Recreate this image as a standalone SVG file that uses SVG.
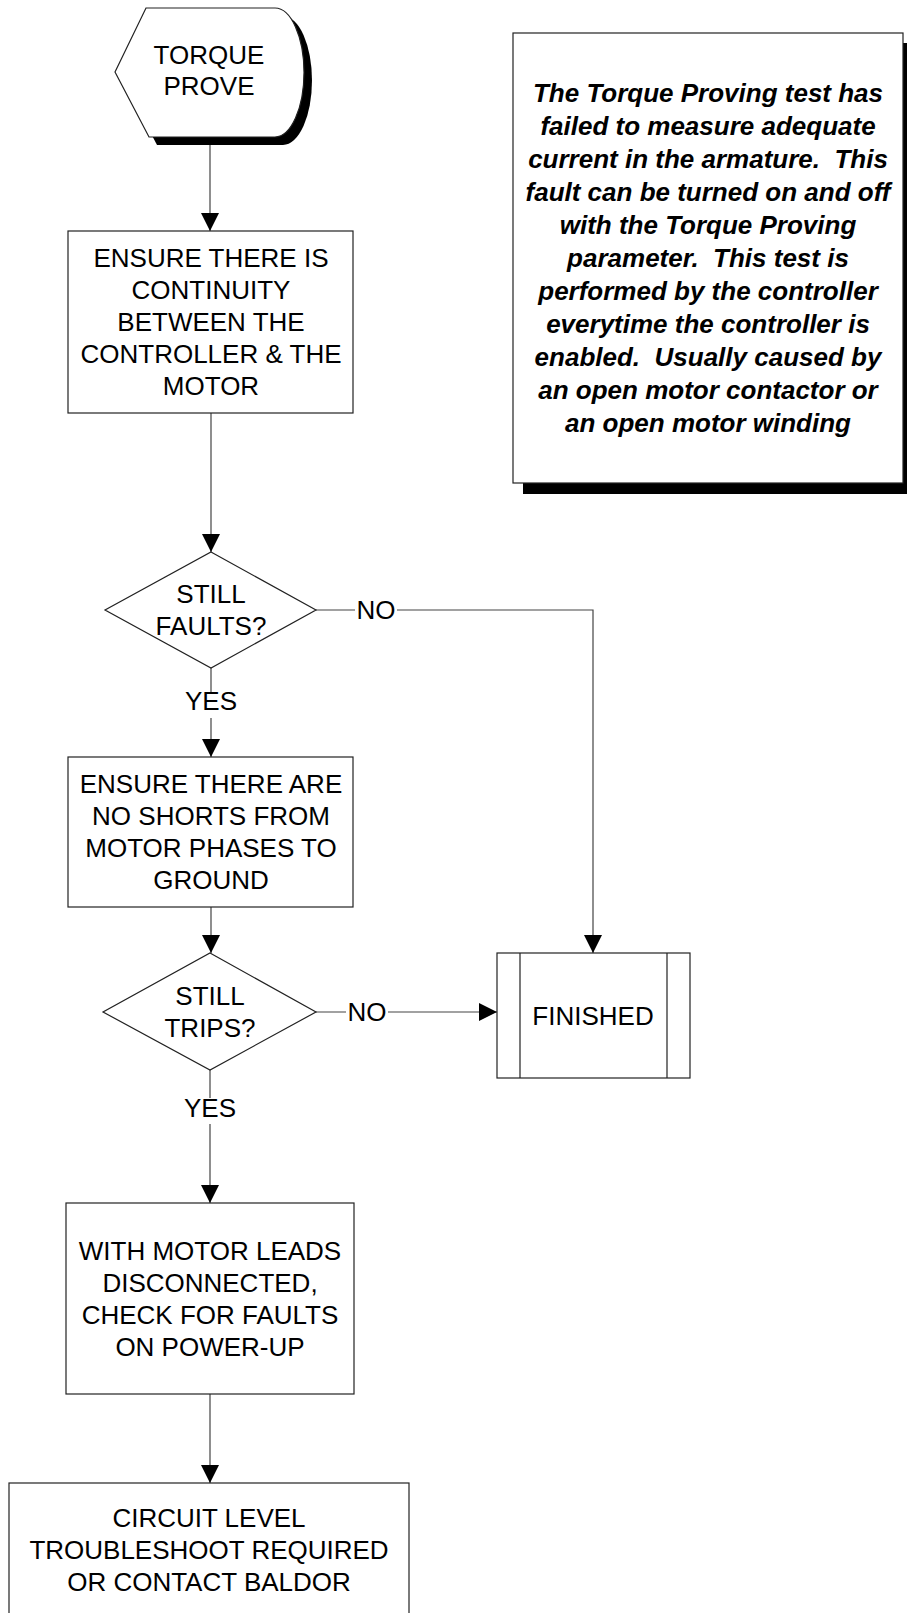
<svg xmlns="http://www.w3.org/2000/svg" width="907" height="1613" viewBox="0 0 907 1613">
<defs>
<marker id="arr" markerUnits="userSpaceOnUse" markerWidth="18" markerHeight="18" refX="18" refY="9" orient="auto"><path d="M0,0 L18,9 L0,18 Z" fill="#000"/></marker>
</defs>
<style>
.box{fill:#fff;stroke:#222;stroke-width:1.2}
.sh{fill:#000}
.t{font-family:"Liberation Sans",Arial,sans-serif;font-size:26px;fill:#000;text-anchor:middle}
.n{font-family:"Liberation Sans",Arial,sans-serif;font-size:26px;font-weight:bold;font-style:italic;fill:#000;text-anchor:middle;white-space:pre}
.c{fill:none;stroke:#444;stroke-width:1.2}
.lbl{fill:#fff}
</style>
<rect width="907" height="1613" fill="#fff"/>
<g id="connectors">
<path class="c" d="M210,138 V231" marker-end="url(#arr)"/>
<path class="c" d="M211,413 V552" marker-end="url(#arr)"/>
<path class="c" d="M211,668 V757" marker-end="url(#arr)"/>
<path class="c" d="M316,610 H593 V953" marker-end="url(#arr)"/>
<path class="c" d="M211,907 V953" marker-end="url(#arr)"/>
<path class="c" d="M316,1012 H497" marker-end="url(#arr)"/>
<path class="c" d="M210,1070 V1203" marker-end="url(#arr)"/>
<path class="c" d="M210,1394 V1483" marker-end="url(#arr)"/>
<rect class="lbl" x="190" y="692" width="42" height="26"/>
<text class="t" x="211" y="710">YES</text>
<rect class="lbl" x="355" y="598" width="42" height="26"/>
<text class="t" x="376" y="619">NO</text>
<rect class="lbl" x="346" y="1000" width="42" height="26"/>
<text class="t" x="367" y="1021">NO</text>
<rect class="lbl" x="189" y="1098" width="42" height="26"/>
<text class="t" x="210" y="1117">YES</text>
</g>
<g id="start">
<path class="sh" d="M123,80 L154,16 L283,16 A29,64.5 0 0 1 283,145 L157,145 Z"/>
<path class="box" d="M115,72 L146,8 L275,8 A29,64.5 0 0 1 275,137 L149,137 Z"/>
<text class="t" x="209" y="64">TORQUE</text>
<text class="t" x="209" y="95">PROVE</text>
</g>
<g id="note">
<rect class="sh" x="523" y="43" width="390" height="451"/>
<rect class="box" x="513" y="33" width="390" height="450"/>
<text class="n" x="708" y="102" xml:space="preserve">The Torque Proving test has</text>
<text class="n" x="708" y="135" xml:space="preserve">failed to measure adequate</text>
<text class="n" x="708" y="168" xml:space="preserve">current in the armature.  This</text>
<text class="n" x="708" y="201" xml:space="preserve">fault can be turned on and off</text>
<text class="n" x="708" y="234" xml:space="preserve">with the Torque Proving</text>
<text class="n" x="708" y="267" xml:space="preserve">parameter.  This test is</text>
<text class="n" x="708" y="300" xml:space="preserve">performed by the controller</text>
<text class="n" x="708" y="333" xml:space="preserve">everytime the controller is</text>
<text class="n" x="708" y="366" xml:space="preserve">enabled.  Usually caused by</text>
<text class="n" x="708" y="399" xml:space="preserve">an open motor contactor or</text>
<text class="n" x="708" y="432" xml:space="preserve">an open motor winding</text>
</g>
<g id="continuity">
<rect class="box" x="68" y="231" width="285" height="182"/>
<text class="t" x="211" y="267">ENSURE THERE IS</text>
<text class="t" x="211" y="299">CONTINUITY</text>
<text class="t" x="211" y="331">BETWEEN THE</text>
<text class="t" x="211" y="363">CONTROLLER &amp; THE</text>
<text class="t" x="211" y="395">MOTOR</text>
</g>
<g id="faults">
<path class="box" d="M211,552 L316,610 L211,668 L105,610 Z"/>
<text class="t" x="211" y="603">STILL</text>
<text class="t" x="211" y="635">FAULTS?</text>
</g>
<g id="shorts">
<rect class="box" x="68" y="757" width="285" height="150"/>
<text class="t" x="211" y="793">ENSURE THERE ARE</text>
<text class="t" x="211" y="825">NO SHORTS FROM</text>
<text class="t" x="211" y="857">MOTOR PHASES TO</text>
<text class="t" x="211" y="889">GROUND</text>
</g>
<g id="trips">
<path class="box" d="M210,953 L316,1012 L210,1070 L103,1012 Z"/>
<text class="t" x="210" y="1005">STILL</text>
<text class="t" x="210" y="1037">TRIPS?</text>
</g>
<g id="finished">
<rect class="box" x="497" y="953" width="193" height="125"/>
<path class="box" d="M520,953 V1078 M667,953 V1078"/>
<text class="t" x="593" y="1025">FINISHED</text>
</g>
<g id="disconnect">
<rect class="box" x="66" y="1203" width="288" height="191"/>
<text class="t" x="210" y="1260">WITH MOTOR LEADS</text>
<text class="t" x="210" y="1292">DISCONNECTED,</text>
<text class="t" x="210" y="1324">CHECK FOR FAULTS</text>
<text class="t" x="210" y="1356">ON POWER-UP</text>
</g>
<g id="circuit">
<rect class="box" x="9" y="1483" width="400" height="150"/>
<text class="t" x="209" y="1527">CIRCUIT LEVEL</text>
<text class="t" x="209" y="1559">TROUBLESHOOT REQUIRED</text>
<text class="t" x="209" y="1591">OR CONTACT BALDOR</text>
</g>
</svg>
